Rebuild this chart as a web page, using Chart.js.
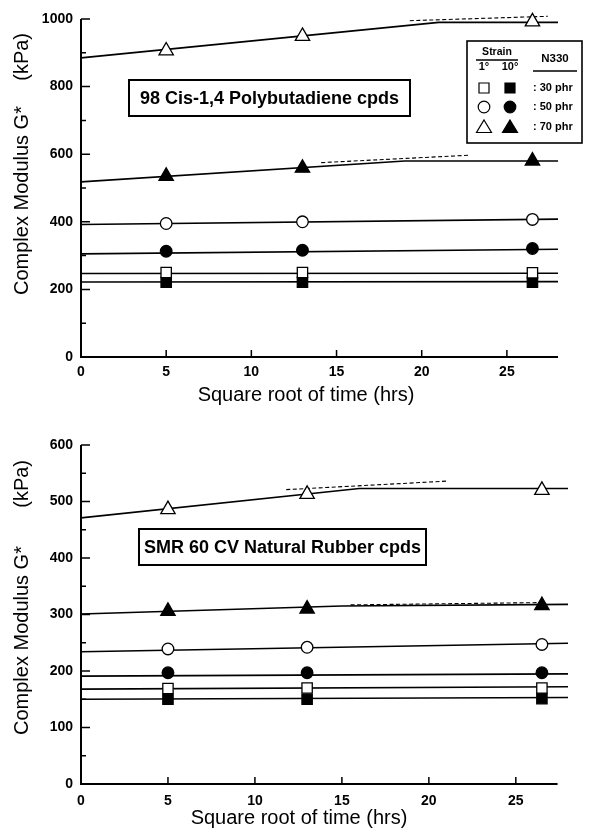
<!DOCTYPE html>
<html>
<head>
<meta charset="utf-8">
<title>Complex Modulus G* vs square root of time</title>
<script src="https://cdn.jsdelivr.net/npm/chart.js@4.4.0/dist/chart.umd.min.js"></script>
<style>
  body { margin: 0; background: #fff; }
  #wrap { position: relative; width: 594px; height: 829px; }
  #topBox { position: absolute; left: 0; top: 0; width: 594px; height: 410px; }
  #bottomBox { position: absolute; left: 0; top: 410px; width: 594px; height: 419px; }
</style>
</head>
<body>
<div id="wrap">
  <div id="topBox"><canvas id="chartBR" width="594" height="410"></canvas></div>
  <div id="bottomBox"><canvas id="chartNR" width="594" height="419"></canvas></div>
</div>
<script>
const FONT = "'Liberation Sans', Arial, sans-serif";

// square root of time (hrs) where the modulus was measured
const timeHrs = [5, 13, 26.5];
const xTicks = [0, 5, 10, 15, 20, 25];

// N330 loadings shown in the legend
const loadings = ['30', '50', '70'];

// --- 98 Cis-1,4 Polybutadiene cpds (top) ---
const brTicks = [0, 200, 400, 600, 800, 1000];
const brMinor = [100, 300, 500, 700, 900];
const br30a = [250, 250, 249];   // 1 deg strain
const br30b = [221, 221, 221];   // 10 deg strain
const br50a = [395, 400, 407];
const br50b = [313, 316, 321];
const br70a = [906, 949, 992];
const br70b = [535, 559, 580];
// fitted lines [x, y]
const brFit30a = [[0, 247], [28, 248]];
const brFit30b = [[0, 222], [28, 223]];
const brFit50a = [[0, 392], [28, 408]];
const brFit50b = [[0, 305], [28, 319]];
const brFit70a = [[0, 885], [21, 990], [28, 990]];
const brFit70b = [[0, 518], [19, 580], [28, 580]];
const brDash70a = [[19.3, 995], [27.4, 1008]];
const brDash70b = [[14.1, 575], [22.8, 597]];

// --- SMR 60 CV Natural Rubber cpds (bottom) ---
const nrTicks = [0, 100, 200, 300, 400, 500, 600];
const nrMinor = [50, 150, 250, 350, 450, 550];
const nr30a = [169, 170, 170];
const nr30b = [150, 150, 151];
const nr50a = [239, 242, 247];
const nr50b = [197, 197, 197];
const nr70a = [486, 513, 520];
const nr70b = [306, 310, 316];
const nrFit30a = [[0, 168], [28, 172]];
const nrFit30b = [[0, 150], [28, 153]];
const nrFit50a = [[0, 234], [28, 249]];
const nrFit50b = [[0, 191], [28, 195]];
const nrFit70a = [[0, 471], [16, 523], [28, 523]];
const nrFit70b = [[0, 301], [15, 315], [28, 318]];
const nrDash70a = [[11.8, 521], [21, 536]];
const nrDash70b = [[15.5, 317], [26.2, 321]];

function markerSet(values, style, filled, radius) {
  return {
    data: values.map((v, i) => ({ x: timeHrs[i], y: v })),
    showLine: false,
    clip: false,
    pointStyle: style,
    pointRadius: radius,
    pointHoverRadius: radius,
    pointBackgroundColor: filled ? '#000' : '#fff',
    pointBorderColor: '#000',
    pointBorderWidth: 1.3
  };
}

function fitLine(points, dashed) {
  return {
    data: points.map(p => ({ x: p[0], y: p[1] })),
    showLine: true,
    clip: false,
    pointRadius: 0,
    pointHoverRadius: 0,
    borderColor: '#000',
    borderWidth: dashed ? 1.1 : 1.6,
    borderDash: dashed ? [4, 2.5] : [],
    tension: 0
  };
}

// little marker for the legend box
function drawMark(ctx, style, filled, x, y) {
  ctx.beginPath();
  if (style === 'circle') {
    ctx.arc(x, y, 5.8, 0, Math.PI * 2);
  } else if (style === 'rect') {
    ctx.rect(x - 5, y - 5, 10, 10);
  } else {
    ctx.moveTo(x, y - 7);
    ctx.lineTo(x + 7.5, y + 5.5);
    ctx.lineTo(x - 7.5, y + 5.5);
    ctx.closePath();
  }
  ctx.fillStyle = filled ? '#000' : '#fff';
  ctx.fill();
  ctx.strokeStyle = '#000';
  ctx.lineWidth = 1.2;
  ctx.stroke();
}

function drawLegend(ctx) {
  ctx.save();
  ctx.fillStyle = '#fff';
  ctx.fillRect(467, 41, 115, 102);
  ctx.strokeStyle = '#000';
  ctx.lineWidth = 1.6;
  ctx.strokeRect(467, 41, 115, 102);

  ctx.fillStyle = '#000';
  ctx.textAlign = 'center';
  ctx.textBaseline = 'middle';
  ctx.font = 'bold 10.5px ' + FONT;
  ctx.fillText('Strain', 497, 52);
  ctx.font = 'bold 11px ' + FONT;
  ctx.fillText('1°', 484, 67);
  ctx.fillText('10°', 510, 67);
  ctx.font = 'bold 11.5px ' + FONT;
  ctx.fillText('N330', 555, 59);

  ctx.lineWidth = 1.5;
  ctx.beginPath();
  ctx.moveTo(476, 60); ctx.lineTo(518, 60);
  ctx.moveTo(533, 71); ctx.lineTo(577, 71);
  ctx.stroke();

  const styles = ['rect', 'circle', 'triangle'];
  const rowY = [88, 107, 127];
  loadings.forEach((l, i) => {
    drawMark(ctx, styles[i], false, 484, rowY[i]);
    drawMark(ctx, styles[i], true, 510, rowY[i]);
    ctx.fillStyle = '#000';
    ctx.textAlign = 'left';
    ctx.font = 'bold 11px ' + FONT;
    ctx.fillText(': ' + l + ' phr', 533, rowY[i]);
  });
  ctx.restore();
}

// axes with inward ticks, titles, boxed label
function decoPlugin(cfg) {
  return {
    id: 'deco',
    afterDraw(chart) {
      const ctx = chart.ctx;
      const a = chart.chartArea;
      const xs = chart.scales.x;
      const ys = chart.scales.y;
      ctx.save();
      ctx.strokeStyle = '#000';
      ctx.lineWidth = 2;
      ctx.beginPath();
      ctx.moveTo(a.left, a.top);
      ctx.lineTo(a.left, a.bottom);
      ctx.lineTo(xs.getPixelForValue(cfg.axisEnd), a.bottom);
      ctx.stroke();

      ctx.lineWidth = 1.5;
      ctx.beginPath();
      cfg.yTicks.forEach(v => {
        if (v === 0) return;
        const p = ys.getPixelForValue(v);
        ctx.moveTo(a.left, p); ctx.lineTo(a.left + 9, p);
      });
      cfg.yMinor.forEach(v => {
        const p = ys.getPixelForValue(v);
        ctx.moveTo(a.left, p); ctx.lineTo(a.left + 5, p);
      });
      xTicks.forEach(v => {
        if (v === 0) return;
        const p = xs.getPixelForValue(v);
        ctx.moveTo(p, a.bottom); ctx.lineTo(p, a.bottom - 7);
      });
      ctx.stroke();

      // axis titles
      ctx.fillStyle = '#000';
      ctx.font = '20px ' + FONT;
      ctx.textBaseline = 'alphabetic';
      ctx.textAlign = 'center';
      ctx.fillText('Square root of time (hrs)', cfg.xTitle[0], cfg.xTitle[1]);

      ctx.save();
      ctx.translate(cfg.yTitle[0], cfg.yTitle[1]);
      ctx.rotate(-Math.PI / 2);
      ctx.textAlign = 'left';
      ctx.fillText('Complex Modulus G*', 0, 0);
      ctx.restore();
      ctx.save();
      ctx.translate(cfg.yTitle[0], cfg.yTitle[2]);
      ctx.rotate(-Math.PI / 2);
      ctx.textAlign = 'right';
      ctx.fillText('(kPa)', 0, 0);
      ctx.restore();

      // compound label in a box
      const b = cfg.box;
      ctx.fillStyle = '#fff';
      ctx.fillRect(b[1], b[2], b[3], b[4]);
      ctx.lineWidth = 2;
      ctx.strokeRect(b[1], b[2], b[3], b[4]);
      ctx.fillStyle = '#000';
      ctx.font = 'bold 18px ' + FONT;
      ctx.textAlign = 'center';
      ctx.textBaseline = 'middle';
      ctx.fillText(b[0], b[1] + b[3] / 2, b[2] + b[4] / 2 + 1);
      ctx.restore();

      if (cfg.legend) drawLegend(ctx);
    }
  };
}

function buildChart(id, cfg) {
  return new Chart(document.getElementById(id), {
    type: 'scatter',
    data: { datasets: cfg.datasets },
    options: {
      responsive: false,
      animation: false,
      events: [],
      layout: { padding: cfg.padding },
      plugins: { legend: { display: false }, tooltip: { enabled: false } },
      scales: {
        x: {
          type: 'linear', min: 0, max: 28,
          grid: { display: false, drawTicks: false },
          border: { display: false },
          ticks: {
            padding: cfg.xPad, color: '#000', maxRotation: 0,
            font: { family: FONT, size: 14, weight: 'bold' },
            callback: v => String(v)
          },
          afterBuildTicks: s => { s.ticks = xTicks.map(v => ({ value: v })); },
          afterFit: s => { s.height = cfg.xHeight; }
        },
        y: {
          type: 'linear', min: 0, max: cfg.yMax,
          grid: { display: false, drawTicks: false },
          border: { display: false },
          ticks: {
            padding: 8, color: '#000',
            font: { family: FONT, size: 14, weight: 'bold' },
            callback: v => String(v)
          },
          afterBuildTicks: s => { s.ticks = cfg.yTicks.map(v => ({ value: v })); },
          afterFit: s => { s.width = 81; }
        }
      }
    },
    plugins: [decoPlugin(cfg)]
  });
}

function seriesFor(s30a, s30b, s50a, s50b, s70a, s70b, fits, dashes) {
  const list = [
    markerSet(s30a, 'rect', false, 7.3),
    markerSet(s30b, 'rect', true, 7.3),
    markerSet(s50a, 'circle', false, 5.8),
    markerSet(s50b, 'circle', true, 5.8),
    markerSet(s70a, 'triangle', false, 8.3),
    markerSet(s70b, 'triangle', true, 8.3)
  ];
  fits.forEach(f => list.push(fitLine(f, false)));
  dashes.forEach(d => list.push(fitLine(d, true)));
  return list;
}

buildChart('chartBR', {
  datasets: seriesFor(br30a, br30b, br50a, br50b, br70a, br70b,
    [brFit30a, brFit30b, brFit50a, brFit50b, brFit70a, brFit70b],
    [brDash70a, brDash70b]),
  padding: { left: 0, right: 36, top: 19, bottom: 0 },
  xHeight: 53, xPad: 7, yMax: 1000,
  yTicks: brTicks, yMinor: brMinor, axisEnd: 28,
  xTitle: [306, 401], yTitle: [28, 295, 33],
  box: ['98 Cis-1,4 Polybutadiene cpds', 129, 80, 281, 36],
  legend: true
});

buildChart('chartNR', {
  datasets: seriesFor(nr30a, nr30b, nr50a, nr50b, nr70a, nr70b,
    [nrFit30a, nrFit30b, nrFit50a, nrFit50b, nrFit70a, nrFit70b],
    [nrDash70a, nrDash70b]),
  padding: { left: 0, right: 26, top: 35, bottom: 0 },
  xHeight: 45, xPad: 9, yMax: 600,
  yTicks: nrTicks, yMinor: nrMinor, axisEnd: 27.4,
  xTitle: [299, 414], yTitle: [28, 325, 50],
  box: ['SMR 60 CV Natural Rubber cpds', 139, 119, 287, 36],
  legend: false
});
</script>
</body>
</html>
